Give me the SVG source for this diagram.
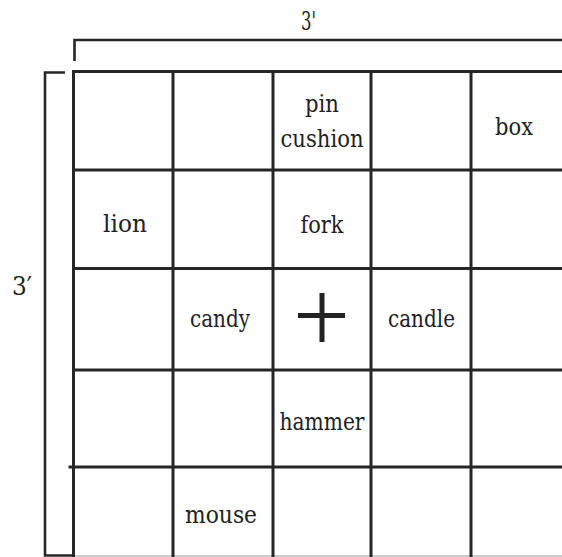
<svg xmlns="http://www.w3.org/2000/svg" width="562" height="557" viewBox="0 0 562 557">
<style>
.grid{stroke:#262626;stroke-width:3;fill:none;stroke-linecap:square}
.br{stroke:#262626;stroke-width:2.6;fill:none}
text{font-family:'DejaVu Serif',serif;fill:#222}
.t{font-size:24px;text-anchor:middle}
.d{font-size:26px}
</style>
<rect width="562" height="557" fill="#fff"/>
<g id="dimensions">
<polyline class="br" points="74.5,61 74.5,40 562,40"/>
<polyline class="br" points="65,72.5 45,72.5 45,555.5 72,555.5"/>
<text class="d" x="301" y="30" textLength="15" lengthAdjust="spacingAndGlyphs">3'</text>
<text class="d" x="12" y="295" textLength="20" lengthAdjust="spacingAndGlyphs">3′</text>
</g>
<g id="grid">
<line class="grid" x1="73.5" y1="71.5" x2="562" y2="71.5"/>
<line class="grid" x1="73.5" y1="170" x2="562" y2="170"/>
<line class="grid" x1="73.5" y1="268.5" x2="562" y2="268.5"/>
<line class="grid" x1="73.5" y1="370" x2="562" y2="370"/>
<line class="grid" x1="70" y1="467" x2="562" y2="467"/>
<line x1="73.5" y1="556" x2="562" y2="556" stroke="#bbb" stroke-width="1.5"/>
<line class="grid" x1="73.5" y1="71.5" x2="73.5" y2="557"/>
<line class="grid" x1="173" y1="71.5" x2="173" y2="557"/>
<line class="grid" x1="273" y1="71.5" x2="273" y2="557"/>
<line class="grid" x1="371" y1="71.5" x2="371" y2="557"/>
<line class="grid" x1="471" y1="71.5" x2="471" y2="557"/>
</g>
<g id="cell-pincushion"><text class="t" x="322" y="112" textLength="34" lengthAdjust="spacingAndGlyphs">pin</text><text class="t" x="322" y="147" textLength="83" lengthAdjust="spacingAndGlyphs">cushion</text></g>
<g id="cell-box"><text class="t" x="514" y="135" textLength="38" lengthAdjust="spacingAndGlyphs">box</text></g>
<g id="cell-lion"><text class="t" x="125" y="232" textLength="44" lengthAdjust="spacingAndGlyphs">lion</text></g>
<g id="cell-fork"><text class="t" x="322" y="233" textLength="43" lengthAdjust="spacingAndGlyphs">fork</text></g>
<g id="cell-candy"><text class="t" x="220" y="327" textLength="60" lengthAdjust="spacingAndGlyphs">candy</text></g>
<g id="cell-center">
<line x1="298" y1="315.5" x2="345" y2="315.5" stroke="#222" stroke-width="5"/>
<line x1="322" y1="293" x2="322" y2="342" stroke="#222" stroke-width="5"/>
</g>
<g id="cell-candle"><text class="t" x="421.5" y="327" textLength="67" lengthAdjust="spacingAndGlyphs">candle</text></g>
<g id="cell-hammer"><text class="t" x="322" y="430" textLength="85" lengthAdjust="spacingAndGlyphs">hammer</text></g>
<g id="cell-mouse"><text class="t" x="221" y="523" textLength="72" lengthAdjust="spacingAndGlyphs">mouse</text></g>
</svg>
